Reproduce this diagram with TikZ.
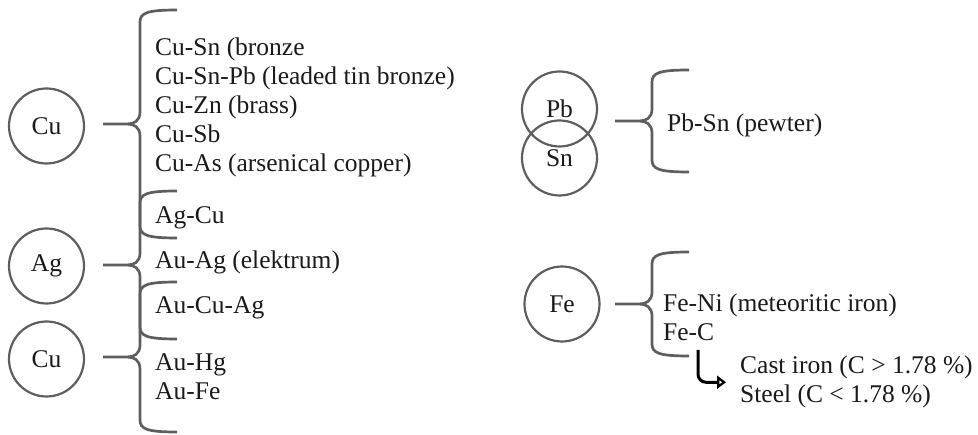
\documentclass[tikz,border=0pt]{standalone}
\usepackage{fontspec}
\setmainfont{Liberation Serif}
\usepackage{xcolor}
\usepackage{tikz}
\usetikzlibrary{arrows.meta,positioning}
\definecolor{rimgray}{HTML}{5E5E5E}
\definecolor{inkdark}{HTML}{1A1A1A}

\begin{document}
\begin{tikzpicture}[x=1pt,y=-1pt,
  every node/.style={font=\fontsize{25.5}{29}\selectfont,text=inkdark},
  elem/.style={circle,draw=rimgray,line width=2.2pt,minimum size=75pt,inner sep=0pt},
  lst/.style={align=left,inner sep=0pt,anchor=north west},
  one/.style={inner sep=0pt,anchor=base west},
  brc/.style={draw=rimgray,line width=2.7pt},
  ar/.style={-{Triangle[open,length=9pt,width=13pt]},draw=black,line width=3pt,
             rounded corners=8pt,shorten >=14pt},
  pics/rbrace/.style={code={
    \draw[brc] (74,-#1) .. controls (44,-#1) and (37,-#1+3) .. (37,-#1+12)
      -- (37,-12) .. controls (37,-3) and (31,0) .. (24,0) -- (0,0)
      (24,0) .. controls (31,0) and (37,3) .. (37,12)
      -- (37,#1-12) .. controls (37,#1-3) and (44,#1) .. (74,#1);
    \coordinate (-tip) at (0,0);}}]
\useasboundingbox (0,0) rectangle (978,435);
% elements
\node[elem] (cu) at (46.5,126) {Cu};
\node[elem] (ag) at (46.5,266) {Ag};
\node[elem] (au) at (46.5,359) {Cu};
\node[elem] (pb) at (559.5,109) {Pb};
\node[elem] (sn) at (559.5,158) {Sn};
\node[elem] (fe) at (562,304) {Fe};
% braces
\pic (cubr) at (103,124) {rbrace=114};
\pic (agbr) at (103,265) {rbrace=74};
\pic (aubr) at (103,357) {rbrace=75};
\pic (pbbr) at (615,121) {rbrace=51};
\pic (febr) at (615,304) {rbrace=52};
% alloys
\node[lst] (cuset) at (155,38) {Cu-Sn (bronze\\Cu-Sn-Pb (leaded tin bronze)\\Cu-Zn (brass)\\Cu-Sb\\Cu-As (arsenical copper)};
\node[one] (agcu) at (155,223.5) {Ag-Cu};
\node[one] (auag) at (155,268.5) {Au-Ag (elektrum)};
\node[one] (aucuag) at (155,313.5) {Au-Cu-Ag};
\node[lst] (auset) at (155,353) {Au-Hg\\Au-Fe};
\node[one] (pbsn) at (667,131.5) {Pb-Sn (pewter)};
\node[lst] (feset) at (663,294) {Fe-Ni (meteoritic iron)\\Fe-C};
\node[lst] (steel) at (740,356) {Cast iron (C > 1.78 \%)\\Steel (C < 1.78 \%)};
\coordinate (fec) at (698,350);
\draw[ar] (fec) |- (steel.west);
\end{tikzpicture}
\end{document}
